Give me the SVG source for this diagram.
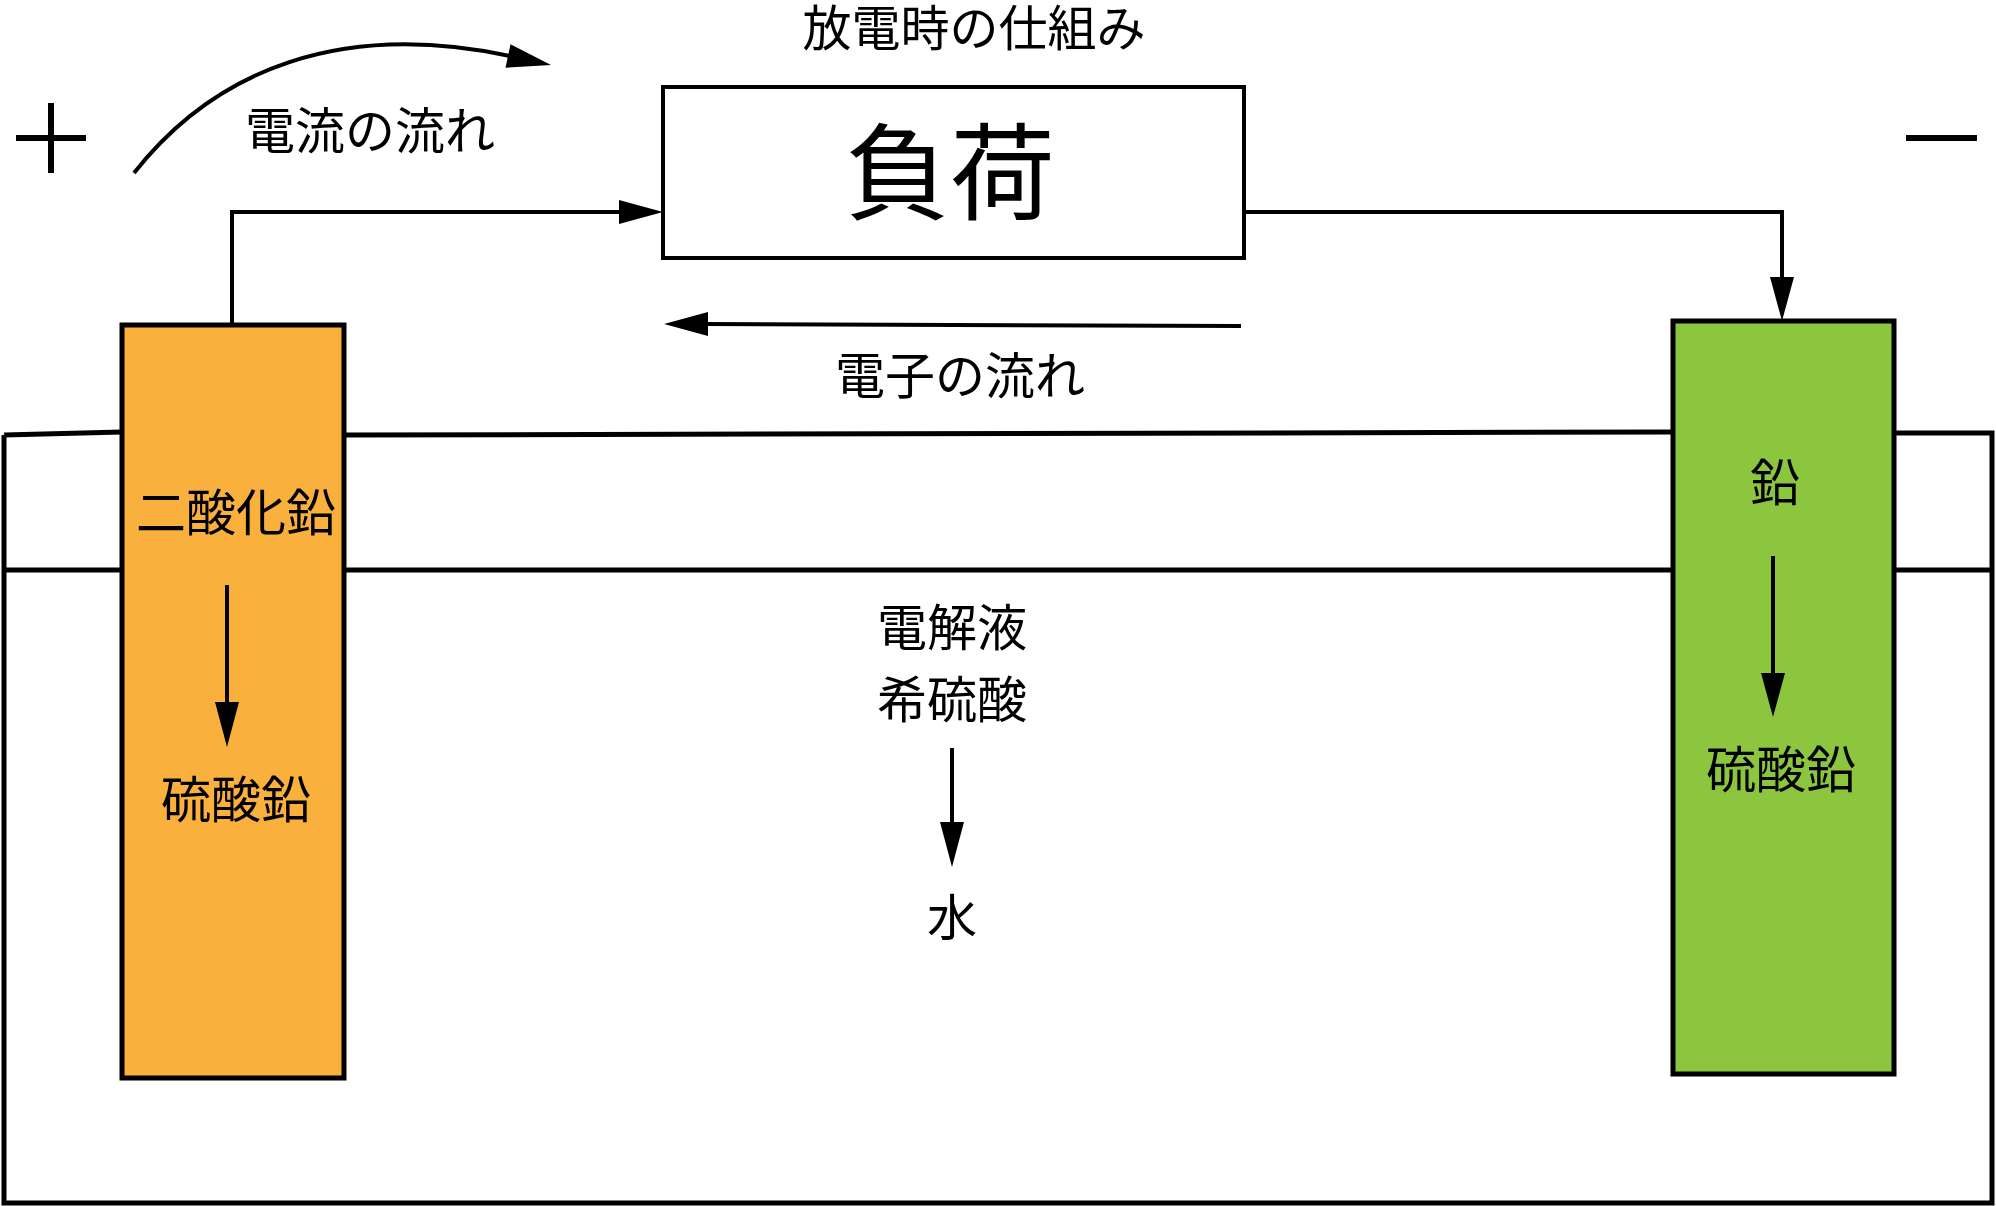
<svg xmlns="http://www.w3.org/2000/svg" width="1996" height="1206" viewBox="0 0 1996 1206">
<defs>
<style>
.t{font-family:"Noto Sans CJK JP","Noto Sans CJK SC",sans-serif;font-size:50px;fill:#000;text-anchor:middle}
.ln{fill:none;stroke:#000;stroke-width:4}
.cn{fill:none;stroke:#000;stroke-width:5}
.ah{fill:#000;stroke:none}
.el{stroke:#000;stroke-width:5}
</style>
</defs>
<rect x="0" y="0" width="1996" height="1206" fill="#fff"/>

<g id="title"><text class="t" x="974" y="46" style="font-size:49px">放電時の仕組み</text></g>

<g id="plus-terminal"><path d="M51,103 V173 M16,138 H86" fill="none" stroke="#000" stroke-width="6"/></g>
<g id="minus-terminal"><path d="M1906,138 H1977" fill="none" stroke="#000" stroke-width="6"/></g>

<g id="container">
<path class="cn" d="M4,435 L122,432 M344,435 L1673,432 M1894,433 H1992 V1203 H4 V435"/>
<path class="cn" d="M4,570 H1992"/>
</g>

<g id="positive-electrode">
<rect x="122" y="325" width="222" height="753" fill="#FAB03C" class="el"/>
<text class="t" x="236" y="531">二酸化鉛</text>
<path class="ln" d="M227,585 V705"/>
<polygon class="ah" points="215,702 239,702 227,747"/>
<text class="t" x="236" y="818">硫酸鉛</text>
</g>

<g id="negative-electrode">
<rect x="1673" y="321" width="221" height="753" fill="#8CC63F" class="el"/>
<text class="t" x="1775" y="501">鉛</text>
<path class="ln" d="M1773,556 V676"/>
<polygon class="ah" points="1761,673 1785,673 1773,717"/>
<text class="t" x="1781" y="788">硫酸鉛</text>
</g>

<g id="electrolyte">
<text class="t" x="952" y="646">電解液</text>
<text class="t" x="952" y="718">希硫酸</text>
<path class="ln" d="M952,748 V825"/>
<polygon class="ah" points="940,822 964,822 952,867"/>
<text class="t" x="952" y="936">水</text>
</g>

<g id="load">
<rect x="663" y="87" width="581" height="171" fill="#fff" stroke="#000" stroke-width="4"/>
<text class="t" x="950" y="211" style="font-size:105px">負荷</text>
</g>

<g id="current-flow">
<path class="ln" d="M134,173 C215,70 340,20 510,56"/>
<polygon class="ah" points="510.5,44.3 505.5,67.7 551,65"/>
<text class="t" x="370" y="149">電流の流れ</text>
</g>

<g id="electron-flow">
<path class="ln" d="M1241,326 L705,324"/>
<polygon class="ah" points="708,312 708,336 664,324"/>
<text class="t" x="960" y="394">電子の流れ</text>
</g>

<g id="connectors">
<path class="ln" d="M232,325 V212 H622"/>
<polygon class="ah" points="619,200 619,224 663,212"/>
<path class="ln" d="M1244,212 H1782 V280"/>
<polygon class="ah" points="1770,277 1794,277 1782,321"/>
</g>
</svg>
